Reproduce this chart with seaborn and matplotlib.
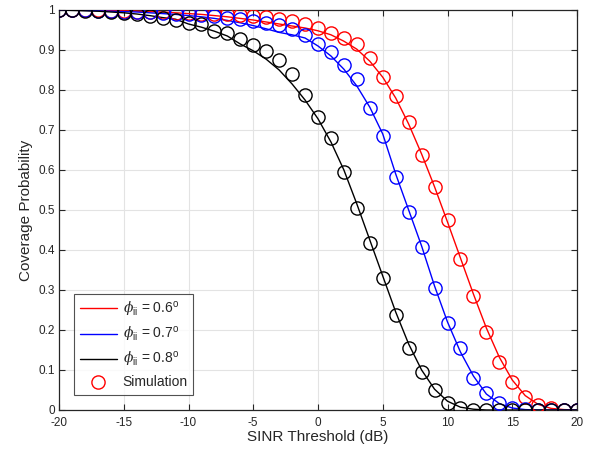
import numpy as np
import pandas as pd
import seaborn as sns
import matplotlib
matplotlib.use('Agg')
import matplotlib.pyplot as plt
from matplotlib.lines import Line2D

# SINR threshold (dB), one sample per dB
sinr = list(range(-20, 21))

# simulation (markers)
sim_06 = [1.0, 1.0, 1.0, 0.999, 0.998, 0.997, 0.996, 0.995, 0.994, 0.993,
          0.992, 0.991, 0.99, 0.989, 0.987, 0.985, 0.982, 0.977, 0.972, 0.965,
          0.955, 0.942, 0.93, 0.915, 0.88, 0.832, 0.785, 0.72, 0.637, 0.558,
          0.475, 0.378, 0.285, 0.196, 0.12, 0.07, 0.033, 0.012, 0.004, 0.001, 0.0]
sim_07 = [1.0, 1.0, 0.999, 0.998, 0.997, 0.996, 0.995, 0.994, 0.993, 0.991,
          0.99, 0.988, 0.985, 0.981, 0.977, 0.973, 0.967, 0.962, 0.952, 0.937,
          0.914, 0.895, 0.862, 0.828, 0.755, 0.685, 0.582, 0.495, 0.408, 0.306,
          0.217, 0.155, 0.08, 0.042, 0.018, 0.006, 0.002, 0.0, 0.0, 0.0, 0.0]
sim_08 = [1.0, 0.999, 0.998, 0.997, 0.995, 0.993, 0.99, 0.986, 0.981, 0.975,
          0.968, 0.965, 0.948, 0.942, 0.927, 0.912, 0.898, 0.875, 0.84, 0.788,
          0.733, 0.68, 0.595, 0.505, 0.418, 0.33, 0.237, 0.155, 0.095, 0.05,
          0.018, 0.004, 0.001, 0.0, 0.0, 0.0, 0.0, 0.0, 0.0, 0.0, 0.0]

# analytical curves (lines)
ana_06 = [1.0, 1.0, 1.0, 0.999, 0.999, 0.998, 0.997, 0.996, 0.995, 0.993,
          0.991, 0.989, 0.986, 0.983, 0.979, 0.975, 0.97, 0.965, 0.96, 0.955,
          0.948, 0.938, 0.922, 0.902, 0.872, 0.832, 0.78, 0.715, 0.64, 0.558,
          0.47, 0.38, 0.29, 0.205, 0.132, 0.075, 0.036, 0.014, 0.004, 0.001, 0.0]
ana_07 = [1.0, 1.0, 0.999, 0.998, 0.997, 0.996, 0.995, 0.993, 0.991, 0.989,
          0.986, 0.983, 0.979, 0.974, 0.968, 0.961, 0.953, 0.944, 0.938, 0.93,
          0.91, 0.885, 0.852, 0.81, 0.757, 0.69, 0.59, 0.5, 0.41, 0.31,
          0.22, 0.145, 0.085, 0.04, 0.016, 0.005, 0.001, 0.0, 0.0, 0.0, 0.0]
ana_08 = [1.0, 0.999, 0.998, 0.997, 0.995, 0.993, 0.99, 0.986, 0.981, 0.977,
          0.965, 0.957, 0.947, 0.935, 0.915, 0.898, 0.877, 0.85, 0.815, 0.775,
          0.728, 0.67, 0.6, 0.515, 0.425, 0.335, 0.245, 0.165, 0.1, 0.052,
          0.022, 0.007, 0.002, 0.0, 0.0, 0.0, 0.0, 0.0, 0.0, 0.0, 0.0]

labels = [r'$\phi_{\rm ii}$ = 0.6$^{\rm o}$',
          r'$\phi_{\rm ii}$ = 0.7$^{\rm o}$',
          r'$\phi_{\rm ii}$ = 0.8$^{\rm o}$']
colors = ['#ff0000', '#0000ff', '#000000']

sns.set_style('ticks')
plt.rcParams['font.family'] = ['Liberation Sans', 'DejaVu Sans']
plt.rcParams['axes.unicode_minus'] = False
plt.rcParams['mathtext.fontset'] = 'custom'
plt.rcParams['mathtext.rm'] = 'Liberation Sans'
plt.rcParams['mathtext.it'] = 'DejaVu Serif:italic'

fig = plt.figure(figsize=(5.93, 4.49), dpi=100)
ax = fig.add_axes([59 / 593, 39 / 449, 518 / 593, 400 / 449])

for sim, ana, c in zip([sim_06, sim_07, sim_08], [ana_06, ana_07, ana_08], colors):
    df = pd.DataFrame({'sinr': sinr, 'sim': sim, 'ana': ana})
    sns.lineplot(data=df, x='sinr', y='ana', ax=ax, color=c, lw=1.0, zorder=3)
    sns.lineplot(data=df, x='sinr', y='sim', ax=ax, color=c, linestyle='',
                 marker='o', markersize=9.5, markerfacecolor='none',
                 markeredgecolor=c, markeredgewidth=1.0, zorder=4)

ax.set_xlim(-20, 20)
ax.set_ylim(0, 1)
ax.set_xticks(range(-20, 21, 5))
ax.set_yticks(np.arange(0, 1.01, 0.1))
ax.set_yticklabels(['0', '0.1', '0.2', '0.3', '0.4', '0.5', '0.6', '0.7',
                    '0.8', '0.9', '1'])
ax.grid(True, color='#e3e3e3', lw=0.8)
ax.set_axisbelow(True)
ax.tick_params(direction='in', top=True, right=True, length=4, width=0.8,
               labelsize=8.5, colors='#262626', pad=3)
ax.tick_params(axis='x', pad=5)
for s in ax.spines.values():
    s.set_color('#262626')
    s.set_linewidth(0.9)
ax.set_xlabel('SINR Threshold (dB)', fontsize=11, color='#262626', labelpad=1)
ax.set_ylabel('Coverage Probability', fontsize=11, color='#262626', labelpad=4)

handles = [Line2D([], [], color=c, lw=1.0) for c in colors]
handles.append(Line2D([], [], color='r', linestyle='', marker='o',
                      markersize=9.5, markerfacecolor='none', markeredgewidth=1.0))
leg = ax.legend(handles, labels + ['Simulation'], loc='lower left',
                bbox_to_anchor=(0.029, 0.0375), borderaxespad=0, fontsize=10,
                frameon=True, fancybox=False, handlelength=2.7,
                labelspacing=0.45, borderpad=0.4, handletextpad=0.4)
leg.get_frame().set_edgecolor('#262626')
leg.get_frame().set_linewidth(0.8)

fig.savefig('out.png', dpi=100)
